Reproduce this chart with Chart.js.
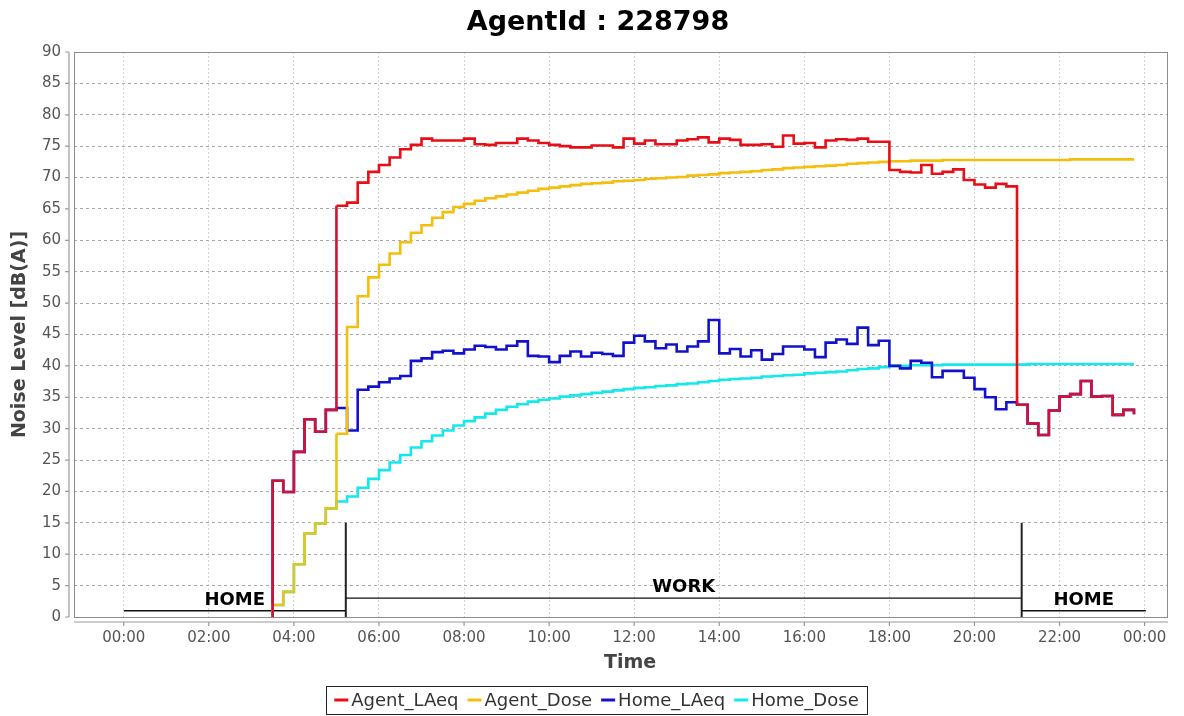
<!DOCTYPE html>
<html>
<head>
<meta charset="utf-8">
<script src="https://cdn.jsdelivr.net/npm/chart.js@4/dist/chart.umd.min.js"></script>
<style>
  html, body { margin: 0; padding: 0; background: #fff; }
  #wrap { width: 1184px; height: 716px; }
</style>
</head>
<body>
<div id="wrap"><canvas id="noiseChart" width="1184" height="716"></canvas></div>
<script>
// 15 minute measurement steps (start of each step)
const times = [
  '03:30','03:45','04:00','04:15','04:30','04:45','05:00','05:15','05:30','05:45',
  '06:00','06:15','06:30','06:45','07:00','07:15','07:30','07:45','08:00','08:15',
  '08:30','08:45','09:00','09:15','09:30','09:45','10:00','10:15','10:30','10:45',
  '11:00','11:15','11:30','11:45','12:00','12:15','12:30','12:45','13:00','13:15',
  '13:30','13:45','14:00','14:15','14:30','14:45','15:00','15:15','15:30','15:45',
  '16:00','16:15','16:30','16:45','17:00','17:15','17:30','17:45','18:00','18:15',
  '18:30','18:45','19:00','19:15','19:30','19:45','20:00','20:15','20:30','20:45',
  '21:00','21:15','21:30','21:45','22:00','22:15','22:30','22:45','23:00','23:15',
  '23:30','23:45'
];
const onsetLevel = 0;

const agentLAeq = [
  21.7, 19.9, 26.3, 31.5, 29.5, 33.0, 65.5, 66.0, 69.2, 70.9,
  72.0, 73.2, 74.5, 75.2, 76.2, 75.9, 75.9, 75.9, 76.2, 75.3,
  75.2, 75.5, 75.5, 76.2, 75.9, 75.5, 75.2, 75.0, 74.8, 74.8,
  75.1, 75.1, 74.8, 76.2, 75.4, 75.9, 75.3, 75.3, 75.9, 76.1,
  76.4, 75.6, 76.2, 76.0, 75.2, 75.2, 75.3, 74.9, 76.7, 75.4,
  75.5, 74.8, 75.9, 76.1, 76.0, 76.2, 75.7, 75.7, 71.2, 70.9,
  70.8, 72.0, 70.6, 70.9, 71.3, 69.6, 68.9, 68.4, 69.0, 68.6,
  33.8, 30.8, 29.0, 32.9, 35.1, 35.5, 37.6, 35.1, 35.2, 32.2,
  33.0, 32.3
];
const agentDose = [
  1.9, 4.0, 8.4, 13.3, 14.9, 17.3, 29.2, 46.2, 51.1, 54.1,
  56.1, 57.9, 59.7, 61.2, 62.4, 63.6, 64.5, 65.3, 65.8, 66.3,
  66.7, 67.0, 67.3, 67.6, 67.9, 68.2, 68.4, 68.6, 68.8, 69.0,
  69.1, 69.2, 69.4, 69.5, 69.6, 69.8, 69.9, 70.0, 70.1, 70.3,
  70.4, 70.5, 70.7, 70.8, 70.9, 71.0, 71.2, 71.3, 71.5, 71.6,
  71.7, 71.8, 71.9, 72.0, 72.2, 72.3, 72.4, 72.5, 72.6, 72.6,
  72.7, 72.7, 72.7, 72.8, 72.8, 72.8, 72.8, 72.8, 72.8, 72.8,
  72.8, 72.8, 72.8, 72.8, 72.8, 72.9, 72.9, 72.9, 72.9, 72.9,
  72.9, 72.9
];
const homeLAeq = [
  21.7, 19.9, 26.3, 31.5, 29.5, 33.0, 33.3, 29.7, 36.2, 36.7,
  37.4, 38.0, 38.4, 40.8, 41.2, 42.2, 42.4, 42.0, 42.6, 43.2,
  43.0, 42.6, 43.2, 43.9, 41.6, 41.5, 40.6, 41.6, 42.3, 41.5,
  42.1, 41.9, 41.6, 43.7, 44.8, 43.9, 42.8, 43.4, 42.3, 43.1,
  43.9, 47.3, 42.0, 42.7, 41.5, 42.5, 41.0, 41.9, 43.1, 43.1,
  42.6, 41.4, 43.7, 44.2, 43.5, 46.1, 43.3, 44.0, 40.0, 39.6,
  40.8, 40.5, 38.2, 39.2, 39.2, 38.1, 36.3, 35.0, 33.1, 34.2,
  33.8, 30.8, 29.0, 32.9, 35.1, 35.5, 37.6, 35.1, 35.2, 32.2,
  33.0, 32.3
];
const homeDose = [
  1.9, 4.0, 8.4, 13.3, 14.9, 17.3, 18.4, 19.2, 20.6, 22.0,
  23.4, 24.6, 25.8, 27.0, 28.0, 28.9, 29.7, 30.5, 31.2, 31.8,
  32.4, 33.0, 33.5, 33.9, 34.3, 34.6, 34.8, 35.1, 35.3, 35.5,
  35.7, 35.9, 36.1, 36.3, 36.5, 36.6, 36.8, 36.9, 37.1, 37.2,
  37.4, 37.6, 37.8, 37.9, 38.0, 38.1, 38.3, 38.4, 38.5, 38.6,
  38.8, 38.9, 39.0, 39.1, 39.3, 39.5, 39.6, 39.8, 40.0, 40.0,
  40.1, 40.1, 40.1, 40.2, 40.2, 40.2, 40.2, 40.2, 40.2, 40.2,
  40.2, 40.3, 40.3, 40.3, 40.3, 40.3, 40.3, 40.3, 40.3, 40.3,
  40.3, 40.3
];

// activity periods (labels, start/end in hours, drawn level)
const phaseNames = ['HOME', 'WORK', 'HOME'];
const phaseStart = [0, 5.22, 21.11];
const phaseEnd = [5.22, 21.11, 24.03];
const phaseLevel = [1, 3, 1];
const switchMarkTop = 15;

const hourTicks = [0, 2, 4, 6, 8, 10, 12, 14, 16, 18, 20, 22, 24];

const seriesNames = ['Agent_LAeq', 'Agent_Dose', 'Home_LAeq', 'Home_Dose'];
const seriesColors = ['rgb(232,14,22)', 'rgb(246,190,12)', 'rgb(18,18,206)', 'rgb(20,232,234)'];
// where a series lies on top of the home series the tone mixes slightly
const overlapColors = ['rgb(206,18,58)', 'rgb(228,196,30)', null, null];
const seriesValues = [agentLAeq, agentDose, homeLAeq, homeDose];

function toHours(t) {
  const [h, m] = t.split(':').map(Number);
  return h + m / 60;
}

function atHome(ctx) {
  return ctx.p1.parsed.x <= phaseEnd[0] - 0.2 || ctx.p0.parsed.x >= phaseStart[2] - 0.2;
}

const datasets = seriesValues.map((vals, i) => ({
  label: seriesNames[i],
  data: [{ x: toHours(times[0]), y: onsetLevel }].concat(vals.map((v, j) => ({ x: toHours(times[j]), y: v }))),
  borderColor: seriesColors[i],
  borderWidth: 2.6,
  stepped: 'before',
  pointRadius: 0,
  fill: false,
  segment: overlapColors[i] ? {
    borderColor: c => {
      if (i === 1) return c.p1.parsed.x <= phaseEnd[0] - 0.2 ? overlapColors[i] : undefined;
      return atHome(c) ? overlapColors[i] : undefined;
    }
  } : undefined
}));

phaseNames.forEach((name, i) => {
  datasets.push({
    label: name,
    data: [{ x: phaseStart[i], y: phaseLevel[i] }, { x: phaseEnd[i], y: phaseLevel[i] }],
    borderColor: '#111',
    borderWidth: 1.4,
    pointRadius: 0
  });
});
phaseStart.slice(1).forEach(t => {
  datasets.push({
    label: 'switch',
    data: [{ x: t, y: 0 }, { x: t, y: switchMarkTop }],
    borderColor: '#222',
    borderWidth: 2,
    pointRadius: 0
  });
});

const FONT = '"DejaVu Sans", sans-serif';

const decor = {
  id: 'decor',
  beforeDraw(chart) {
    const ctx = chart.ctx;
    ctx.save();
    ctx.fillStyle = '#fff';
    ctx.fillRect(0, 0, chart.width, chart.height);
    ctx.restore();
  },
  afterDraw(chart) {
    const { ctx, chartArea: a, scales: { x, y } } = chart;
    ctx.save();

    // plot frame
    ctx.strokeStyle = '#8c8c8c';
    ctx.lineWidth = 1;
    ctx.strokeRect(a.left + 0.5, a.top + 0.5, a.right - a.left - 1, a.bottom - a.top);

    // offset axis lines with tick marks
    ctx.strokeStyle = '#999';
    ctx.lineWidth = 1.2;
    ctx.beginPath();
    ctx.moveTo(a.left - 5, a.top);
    ctx.lineTo(a.left - 5, a.bottom);
    ctx.moveTo(a.left, a.bottom + 5);
    ctx.lineTo(a.right, a.bottom + 5);
    y.ticks.forEach(t => {
      const py = y.getPixelForValue(t.value);
      ctx.moveTo(a.left - 9, py);
      ctx.lineTo(a.left - 5, py);
    });
    x.ticks.forEach(t => {
      const px = x.getPixelForValue(t.value);
      ctx.moveTo(px, a.bottom + 5);
      ctx.lineTo(px, a.bottom + 9);
    });
    ctx.stroke();

    // phase labels
    ctx.fillStyle = '#000';
    ctx.font = 'bold 18px ' + FONT;
    ctx.textAlign = 'center';
    ctx.textBaseline = 'alphabetic';
    phaseNames.forEach((name, i) => {
      const px = x.getPixelForValue((phaseStart[i] + phaseEnd[i]) / 2);
      const py = y.getPixelForValue(phaseLevel[i]);
      ctx.fillText(name, px, py - 6);
    });

    // title
    ctx.font = 'bold 27px ' + FONT;
    ctx.textBaseline = 'middle';
    ctx.fillText('AgentId : 228798', 598, 23);

    // x axis title
    ctx.fillStyle = '#444';
    ctx.font = 'bold 19px ' + FONT;
    ctx.fillText('Time', 630, 663);

    // legend
    ctx.font = '18px ' + FONT;
    const sample = 14, gapIn = 3, gapOut = 9;
    const widths = seriesNames.map(n => ctx.measureText(n).width);
    const total = widths.reduce((s, w) => s + sample + gapIn + w, 0) + gapOut * (seriesNames.length - 1);
    const boxL = 326, boxR = 867, boxT = 686, boxB = 714;
    let lx = (boxL + boxR) / 2 - total / 2;
    const ly = (boxT + boxB) / 2;
    ctx.strokeStyle = '#222';
    ctx.lineWidth = 1;
    ctx.strokeRect(boxL + 0.5, boxT + 0.5, boxR - boxL, boxB - boxT);
    ctx.textAlign = 'left';
    seriesNames.forEach((n, i) => {
      ctx.strokeStyle = seriesColors[i];
      ctx.lineWidth = 3;
      ctx.beginPath();
      ctx.moveTo(lx, ly);
      ctx.lineTo(lx + sample, ly);
      ctx.stroke();
      ctx.fillStyle = '#333';
      ctx.fillText(n, lx + sample + gapIn, ly + 1);
      lx += sample + gapIn + widths[i] + gapOut;
    });
    ctx.restore();
  }
};

new Chart(document.getElementById('noiseChart'), {
  type: 'line',
  data: { datasets },
  options: {
    responsive: false,
    animation: false,
    layout: { padding: { top: 52, right: 16, bottom: 0, left: 0 } },
    plugins: {
      legend: { display: false },
      title: { display: false },
      tooltip: { enabled: false }
    },
    elements: { line: { tension: 0 } },
    scales: {
      x: {
        type: 'linear',
        min: -1.17,
        max: 24.55,
        afterFit: s => { s.height = 99; },
        afterBuildTicks: s => { s.ticks = hourTicks.map(v => ({ value: v })); },
        grid: { color: '#d6d6d6', lineWidth: 1, drawTicks: false },
        border: { display: false, dash: [2, 2] },
        ticks: {
          padding: 12,
          color: '#555',
          font: { family: FONT, size: 15 },
          maxRotation: 0,
          autoSkip: false,
          callback: v => String(v % 24).padStart(2, '0') + ':00'
        }
      },
      y: {
        min: 0,
        max: 90,
        afterFit: s => { s.width = 74; },
        grid: { color: '#a8a8a8', lineWidth: 1, drawTicks: false },
        border: { display: false, dash: [3, 3] },
        ticks: {
          stepSize: 5,
          padding: 13,
          color: '#555',
          font: { family: FONT, size: 15 }
        },
        title: {
          display: true,
          text: 'Noise Level [dB(A)]',
          color: '#444',
          font: { family: FONT, size: 19, weight: 'bold' },
          padding: { top: 9, bottom: 0 }
        }
      }
    }
  },
  plugins: [decor]
});
</script>
</body>
</html>
